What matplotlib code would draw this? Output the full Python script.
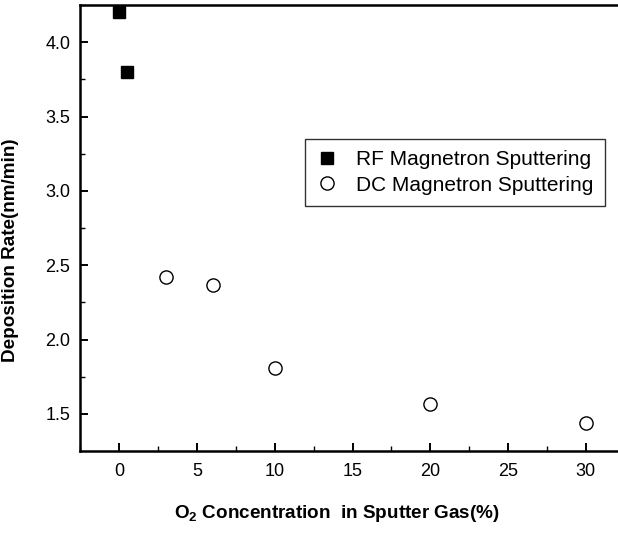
import matplotlib
matplotlib.use('Agg')
import matplotlib.pyplot as plt
from matplotlib import font_manager
from matplotlib.ticker import MultipleLocator

# Data
rf_o2 = [0.0, 0.5]
rf_rate = [4.20, 3.80]
dc_o2 = [3, 6, 10, 20, 30]
dc_rate = [2.42, 2.37, 1.81, 1.57, 1.44]

# condensed Arial-like face if the narrow variant is there
names = {f.name for f in font_manager.fontManager.ttflist}
if 'Liberation Sans Narrow' in names:
    fam = 'Liberation Sans Narrow'
    fs_tick, fs_leg, fs_lab = 13.5, 16, 16
else:
    fam = 'Liberation Sans'
    fs_tick, fs_leg, fs_lab = 13, 15, 13.6

plt.rcParams['font.family'] = [fam, 'DejaVu Sans']
plt.rcParams['mathtext.fontset'] = 'custom'
plt.rcParams['mathtext.rm'] = fam + ':bold'
plt.rcParams['mathtext.default'] = 'rm'

fig = plt.figure(figsize=(6.18, 5.34), dpi=100)
ax = fig.add_axes([80/618, 1 - 450.7/534, 1 - 80/618, (450.7 - 5)/534])

ax.plot(rf_o2, rf_rate, 's', color='black', markersize=8.5, label='RF Magnetron Sputtering')
ax.plot(dc_o2, dc_rate, 'o', markerfacecolor='white', markeredgecolor='black',
        markeredgewidth=1.0, markersize=9.5, label='DC Magnetron Sputtering')

ax.set_xlim(-2.53, 32.07)
ax.set_ylim(1.253, 4.25)
ax.xaxis.set_major_locator(MultipleLocator(5))
ax.xaxis.set_minor_locator(MultipleLocator(2.5))
ax.yaxis.set_major_locator(MultipleLocator(0.5))
ax.yaxis.set_minor_locator(MultipleLocator(0.25))
ax.tick_params(which='major', direction='in', length=6, width=1.4, labelsize=fs_tick, pad=7)
ax.tick_params(axis='x', which='major', pad=9)
ax.tick_params(which='minor', direction='in', length=3.5, width=1.0)
ax.tick_params(axis='x', which='both', top=False)
ax.tick_params(axis='y', which='both', right=False)

for s in ['left', 'bottom', 'top']:
    ax.spines[s].set_linewidth(1.8)
ax.spines['right'].set_visible(False)

ax.set_ylabel('Deposition Rate(nm/min)', fontsize=fs_lab, fontweight='bold')
ax.yaxis.set_label_coords(-0.113, 0.45)
ax.set_xlabel(r'O$_2$ Concentration  in Sputter Gas(%)', fontsize=fs_lab, fontweight='bold')
ax.xaxis.set_label_coords((336.5 - 80)/538, (450.7 - 513)/445.7)
ax.xaxis.label.set_va('center')

leg = ax.legend(loc='center', bbox_to_anchor=(299/618, 1 - 206/534, 312/618, 67/534),
                bbox_transform=fig.transFigure, fontsize=fs_leg, frameon=True,
                fancybox=False, edgecolor='black', handletextpad=0.9,
                labelspacing=0.3, borderpad=0.55, handlelength=1.0)
leg.get_frame().set_linewidth(1.0)

fig.savefig('out.png', dpi=100)
